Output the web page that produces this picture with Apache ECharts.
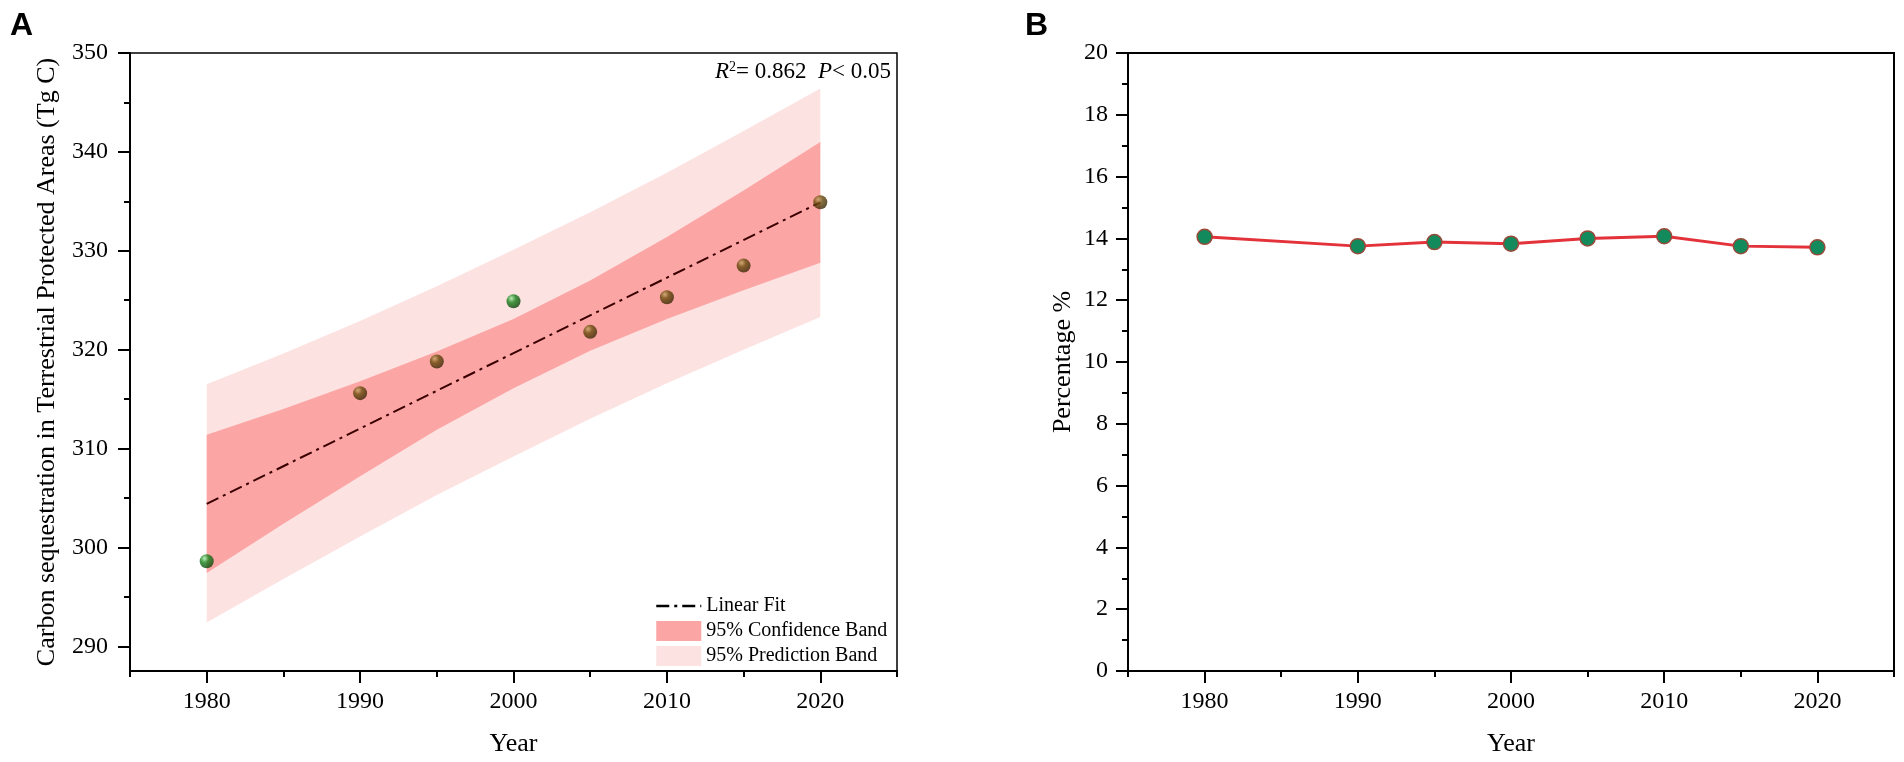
<!DOCTYPE html>
<html>
<head>
<meta charset="utf-8">
<title>Carbon sequestration in protected areas</title>
<script src="https://cdn.jsdelivr.net/npm/echarts@6/dist/echarts.min.js"></script>
<style>
  html, body { margin: 0; padding: 0; background: #fff; }
  #chart { width: 1904px; height: 762px; }
</style>
</head>
<body>
<div id="chart"></div>
<script>
// panel A: carbon sequestration (Tg C)
const years = [1980, 1990, 1995, 2000, 2005, 2010, 2015, 2020]
const carbon = [298.6, 315.6, 318.8, 324.9, 321.8, 325.3, 328.5, 334.9]
const greenYears = [1980, 2000]

// fit line and bands
const fitYears = [1980, 2020]
const fitValues = [304.4, 334.9]
const bandYears = [1980, 1985, 1990, 1995, 2000, 2005, 2010, 2015, 2020]
const confLow = [297.4, 302.4, 307.2, 311.9, 316.1, 319.9, 323.1, 326.0, 328.8]
const confHigh = [311.4, 314.0, 316.8, 319.8, 323.1, 327.0, 331.4, 336.1, 341.0]
const predLow = [292.4, 296.8, 301.1, 305.3, 309.2, 313.0, 316.6, 320.0, 323.3]
const predHigh = [316.5, 319.6, 322.9, 326.4, 330.1, 333.9, 337.9, 342.1, 346.4]

// panel B: percentage
const percent = [14.05, 13.75, 13.88, 13.83, 14.0, 14.07, 13.75, 13.71]

// ticks
const yearTicks = [1980, 1990, 2000, 2010, 2020]
const yearMinor = [1975, 1985, 1995, 2005, 2015, 2025]
const carbonTicks = [290, 300, 310, 320, 330, 340, 350]
const carbonMinor = [295, 305, 315, 325, 335, 345]

const serif = 'Liberation Serif'
const chart = echarts.init(document.getElementById('chart'))

const pairs = (xs, ys) => xs.map((x, i) => [x, ys[i]])

const ball = (light, mid, dark) => ({
  type: 'radial', x: 0.35, y: 0.3, r: 0.75,
  colorStops: [
    { offset: 0, color: light },
    { offset: 0.4, color: mid },
    { offset: 1, color: dark }
  ]
})

const tickLabel = { fontFamily: serif, fontSize: 24, color: '#000', formatter: v => String(v) }
const lineStyle = { color: '#000', width: 2 }

function mainX(grid) {
  return {
    type: 'value', gridIndex: grid, min: 1975, max: 2025, position: 'bottom', z: 5,
    name: 'Year', nameLocation: 'middle', nameGap: 60,
    nameTextStyle: { fontFamily: serif, fontSize: 26, color: '#000' },
    axisLine: { onZero: false, lineStyle },
    axisTick: { customValues: yearTicks, length: 12, lineStyle },
    axisLabel: Object.assign({ customValues: yearTicks, margin: 19 }, tickLabel),
    splitLine: { show: false }
  }
}
function minorX(grid) {
  return {
    type: 'value', gridIndex: grid, min: 1975, max: 2025, position: 'bottom', z: 5,
    axisLine: { show: false },
    axisTick: { customValues: yearMinor, length: 6, lineStyle },
    axisLabel: { show: false },
    splitLine: { show: false }
  }
}

// band polygon between a low and a high curve
function band(name, low, high, color) {
  return {
    name, type: 'custom', xAxisIndex: 0, yAxisIndex: 0, z: 1, silent: true,
    itemStyle: { color },
    data: [[bandYears[0], low[0]]],
    renderItem: (params, api) => {
      const top = bandYears.map((x, i) => api.coord([x, high[i]]))
      const bottom = bandYears.map((x, i) => api.coord([x, low[i]])).reverse()
      return { type: 'polygon', shape: { points: top.concat(bottom) }, style: { fill: color } }
    }
  }
}

const option = {
  animation: false,
  backgroundColor: '#fff',
  grid: [
    { left: 130, top: 53, width: 767, height: 618, show: true, borderColor: '#000', borderWidth: 1.5 },
    { left: 1128, top: 53, width: 766, height: 618, show: true, borderColor: '#000', borderWidth: 2 }
  ],
  xAxis: [mainX(0), minorX(0), mainX(1), minorX(1)],
  yAxis: [
    {
      type: 'value', gridIndex: 0, min: 287.5, max: 350, position: 'left', z: 5,
      name: 'Carbon sequestration in Terrestrial Protected Areas (Tg C)',
      nameLocation: 'middle', nameGap: 70,
      nameTextStyle: { fontFamily: serif, fontSize: 26, color: '#000' },
      axisLine: { onZero: false, lineStyle },
      axisTick: { customValues: carbonTicks, length: 12, lineStyle },
      axisLabel: Object.assign({ customValues: carbonTicks, margin: 22 }, tickLabel),
      splitLine: { show: false }
    },
    {
      type: 'value', gridIndex: 0, min: 287.5, max: 350, position: 'left', z: 5,
      axisLine: { show: false },
      axisTick: { customValues: carbonMinor, length: 6, lineStyle },
      axisLabel: { show: false },
      splitLine: { show: false }
    },
    {
      type: 'value', gridIndex: 1, min: 0, max: 20, interval: 2, position: 'left', z: 5,
      name: 'Percentage %', nameLocation: 'middle', nameGap: 52,
      nameTextStyle: { fontFamily: serif, fontSize: 26, color: '#000' },
      axisLine: { onZero: false, lineStyle },
      axisTick: { length: 12, lineStyle },
      minorTick: { show: true, splitNumber: 2, length: 6, lineStyle },
      axisLabel: Object.assign({ margin: 20 }, tickLabel),
      splitLine: { show: false }
    }
  ],
  legend: {
    orient: 'vertical', left: 650, top: 591,
    itemWidth: 45, itemHeight: 20, itemGap: 5,
    textStyle: { fontFamily: serif, fontSize: 20, color: '#000' },
    data: [
      { name: 'Linear Fit', itemStyle: { opacity: 0 }, lineStyle: { color: '#000', width: 2.5, type: [13, 5, 3, 5] } },
      { name: '95% Confidence Band', icon: 'rect' },
      { name: '95% Prediction Band', icon: 'rect' }
    ]
  },
  graphic: [
    { type: 'text', left: 10, top: 10, style: { text: 'A', fontFamily: 'Liberation Sans', fontWeight: 'bold', fontSize: 32, fill: '#000' } },
    { type: 'text', left: 1025, top: 10, style: { text: 'B', fontFamily: 'Liberation Sans', fontWeight: 'bold', fontSize: 32, fill: '#000' } },
    {
      type: 'text', x: 891, y: 72,
      style: {
        text: '{i|R}{s|2}{n|= 0.862  }{i|P}{n|< 0.05}',
        align: 'right', verticalAlign: 'middle',
        rich: {
          i: { fontFamily: serif, fontStyle: 'italic', fontSize: 23, fill: '#000' },
          s: { fontFamily: serif, fontSize: 14, verticalAlign: 'top', fill: '#000' },
          n: { fontFamily: serif, fontSize: 23, fill: '#000' }
        }
      }
    }
  ],
  series: [
    band('95% Prediction Band', predLow, predHigh, '#fde2e2'),
    band('95% Confidence Band', confLow, confHigh, '#fca5a5'),
    {
      name: 'Linear Fit', type: 'line', xAxisIndex: 0, yAxisIndex: 0, symbol: 'none', z: 3,
      itemStyle: { color: '#3a0000' },
      lineStyle: { color: '#3a0000', width: 2, type: [13, 5, 3, 5] },
      data: pairs(fitYears, fitValues)
    },
    {
      type: 'scatter', xAxisIndex: 0, yAxisIndex: 0, symbolSize: 14, z: 10,
      itemStyle: { color: ball('#c9a86a', '#6a4c0c', '#342404') },
      data: pairs(years, carbon).filter(p => !greenYears.includes(p[0]))
    },
    {
      type: 'scatter', xAxisIndex: 0, yAxisIndex: 0, symbolSize: 14, z: 10,
      itemStyle: { color: ball('#a8eaa8', '#17821a', '#083f08') },
      data: pairs(years, carbon).filter(p => greenYears.includes(p[0]))
    },
    // panel B
    {
      type: 'line', xAxisIndex: 2, yAxisIndex: 2, symbol: 'circle', symbolSize: 15,
      lineStyle: { color: '#e4323a', width: 3 },
      itemStyle: { color: '#128a5c', borderColor: '#9a4a3a', borderWidth: 1.5 },
      data: pairs(years, percent)
    }
  ]
}

option && chart.setOption(option)
</script>
</body>
</html>
